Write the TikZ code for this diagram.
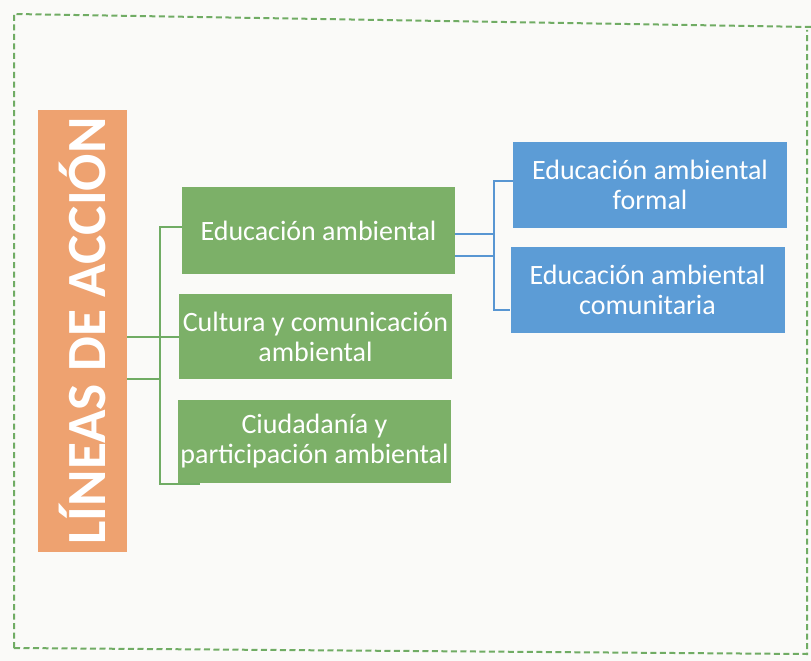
\documentclass[tikz,border=0pt]{standalone}
\usepackage{fontspec}
\setmainfont{Carlito}
\definecolor{paper}{RGB}{250,250,248}
\definecolor{orangebox}{RGB}{238,162,112}
\definecolor{greenbox}{RGB}{124,176,104}
\definecolor{bluebox}{RGB}{92,156,214}
\definecolor{greenline}{RGB}{112,172,100}
\definecolor{blueline}{RGB}{88,150,210}
\begin{document}
\begin{tikzpicture}[x=1pt,y=-1pt,
  gbox/.style={fill=greenbox,text=white,align=center,inner sep=0pt,minimum width=273pt,font=\fontsize{28}{30}\selectfont},
  bbox/.style={fill=bluebox,text=white,align=center,inner sep=0pt,minimum width=274pt,minimum height=86pt,font=\fontsize{28}{30}\selectfont},
  gline/.style={draw=greenline,line width=2pt},
  bline/.style={draw=blueline,line width=2pt},
  frame/.style={draw=greenline,line width=2pt,dash pattern=on 6pt off 3.5pt}]
\fill[paper] (0,0) rectangle (811,661);
\useasboundingbox (0,0) rectangle (811,661);
% dashed frame
\draw[frame] (14,648) -- (14,14) -- (811,27);
\draw[frame] (14,648) -- (807,654) -- (807,30);
% title
\node[fill=orangebox,minimum width=89pt,minimum height=442pt,inner sep=0pt] (title) at (82.5,331) {};
\node[rotate=90,text=white,inner sep=0pt] at (title.center) {\resizebox{427pt}{!}{\bfseries LÍNEAS DE ACCIÓN}};
% green boxes
\node[gbox,minimum height=87pt] (g1) at (318.5,230.5) {Educación ambiental};
\node[gbox,minimum height=85pt] (g2) at (315.5,336.5) {Cultura y comunicación\\ambiental};
\node[gbox,minimum height=83pt] (g3) at (314.5,441.5) {Ciudadanía y\\participación ambiental};
% blue boxes
\node[bbox] (b1) at (650,185) {Educación ambiental\\formal};
\node[bbox] (b2) at (647.5,290) {Educación ambiental\\comunitaria};
% green connectors
\coordinate (gt) at (160,227);
\coordinate (gb) at (160,484);
\coordinate (gbe) at (200,484);
\coordinate (gm) at (160,379);
\draw[gline] (title.east |- g2.west) -- (g2.west);
\draw[gline] (title.east |- gm) -- (gm);
\draw[gline] (g1.west |- gt) -- (gt) -- (gb) -- (gbe);
% blue connectors
\coordinate (bt) at (494,181);
\coordinate (bb) at (494,310);
\coordinate (bj1) at (494,234);
\coordinate (bj2) at (494,256);
\draw[bline] (g1.east |- bj1) -- (bj1);
\draw[bline] (g1.east |- bj2) -- (bj2);
\draw[bline] (b1.west |- bt) -- (bt) -- (bb) -- (b2.west |- bb);
\end{tikzpicture}
\end{document}
